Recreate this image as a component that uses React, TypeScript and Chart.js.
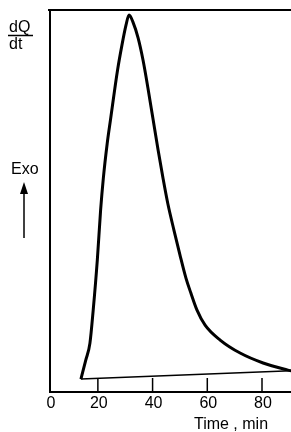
import React, { useEffect, useRef } from "react";
import { Chart, registerables } from "chart.js";

Chart.register(...registerables);

// Time (min) and heat-flow (relative units, 0..100)
const curveTime = [13.8, 15.6, 17.1, 18.3, 19.8, 21.0, 22.0, 23.4, 24.6, 27.2, 28.8, 30.3, 31.4, 32.8, 34.7, 36.5, 38.3, 40.1, 42.0, 43.8, 45.6, 47.8, 50.0, 52.2, 54.0, 56.2, 59.2, 64.7, 72.0, 80.4, 89.2, 92.8];
const curveHeat = [3.4, 8.4, 12.8, 21.5, 34.6, 47.6, 56.0, 65.0, 71.2, 84.3, 90.8, 96.1, 98.7, 96.9, 92.7, 86.9, 79.6, 71.7, 63.4, 56.0, 49.2, 42.4, 35.9, 29.8, 25.9, 21.5, 17.5, 13.6, 10.2, 7.6, 5.8, 5.2];
const baseTime = [13.8, 92.8];
const baseHeat = [3.4, 5.6];

const xTickValues = [0, 20, 40, 60, 80];
const xTickLabels = ["0", "20", "40", "60", "80"];
const xAxisTitle = "Time , min";
const yTop = "dQ";
const yBottom = "dt";
const exoLabel = "Exo";

const FONT = '"Liberation Sans", Arial, sans-serif';

const decorPlugin = {
  id: "decor",
  afterDatasetsDraw(chart: any) {
    const { ctx, chartArea } = chart;
    const xs = chart.scales.x;
    const { left, top, right, bottom } = chartArea;
    ctx.save();
    ctx.strokeStyle = "#000";
    ctx.fillStyle = "#000";
    ctx.lineWidth = 2;
    ctx.beginPath();
    ctx.moveTo(left - 2, top);
    ctx.lineTo(right, top);
    ctx.moveTo(left, top);
    ctx.lineTo(left, bottom);
    ctx.lineTo(right, bottom);
    ctx.stroke();
    ctx.lineWidth = 1.5;
    xTickValues.forEach((v) => {
      const px = xs.getPixelForValue(v);
      if (px > left + 2) {
        ctx.beginPath();
        ctx.moveTo(px, bottom);
        ctx.lineTo(px, bottom - 14);
        ctx.stroke();
      }
    });
    ctx.font = `16px ${FONT}`;
    ctx.textAlign = "center";
    ctx.textBaseline = "middle";
    xTickValues.forEach((v, i) => {
      const px = Math.max(xs.getPixelForValue(v), left);
      ctx.fillText(xTickLabels[i], px + 1, 404);
    });
    ctx.fillText(xAxisTitle, 231, 425);
    ctx.font = `16px ${FONT}`;
    ctx.textAlign = "left";
    ctx.fillText(yTop, 9, 28);
    ctx.fillText(yBottom, 9, 45);
    ctx.lineWidth = 1.5;
    ctx.beginPath();
    ctx.moveTo(8, 35.5);
    ctx.lineTo(33, 35.5);
    ctx.stroke();
    ctx.font = `16px ${FONT}`;
    ctx.fillText(exoLabel, 11, 170);
    ctx.lineWidth = 1.5;
    ctx.beginPath();
    ctx.moveTo(24, 190);
    ctx.lineTo(24, 238);
    ctx.stroke();
    ctx.beginPath();
    ctx.moveTo(24, 182);
    ctx.lineTo(20, 194);
    ctx.lineTo(28, 194);
    ctx.closePath();
    ctx.fill();
    ctx.restore();
  },
};

export default function App() {
  const ref = useRef<HTMLCanvasElement | null>(null);
  useEffect(() => {
    if (!ref.current) return;
    const chart = new Chart(ref.current, {
      type: "line",
      data: {
        datasets: [
          {
            data: curveTime.map((t, i) => ({ x: t, y: curveHeat[i] })),
            borderColor: "#000",
            borderWidth: 3,
            pointRadius: 0,
            cubicInterpolationMode: "monotone",
            fill: false,
          },
          {
            data: baseTime.map((t, i) => ({ x: t, y: baseHeat[i] })),
            borderColor: "#000",
            borderWidth: 1.5,
            pointRadius: 0,
            tension: 0,
            fill: false,
          },
        ],
      },
      options: {
        animation: false,
        responsive: false,
        maintainAspectRatio: false,
        layout: { padding: { left: 50, top: 10, right: 0, bottom: 40 } },
        plugins: { legend: { display: false }, tooltip: { enabled: false } },
        scales: {
          x: { type: "linear", min: 2.5, max: 90.6, display: false },
          y: { type: "linear", min: 0, max: 100, display: false },
        },
      },
      plugins: [decorPlugin],
    });
    return () => chart.destroy();
  }, []);
  return (
    <div style={{ position: "fixed", left: 0, top: 0, width: 291, height: 432, background: "#fff" }}>
      <canvas ref={ref} width={291} height={432} style={{ display: "block" }} />
    </div>
  );
}
